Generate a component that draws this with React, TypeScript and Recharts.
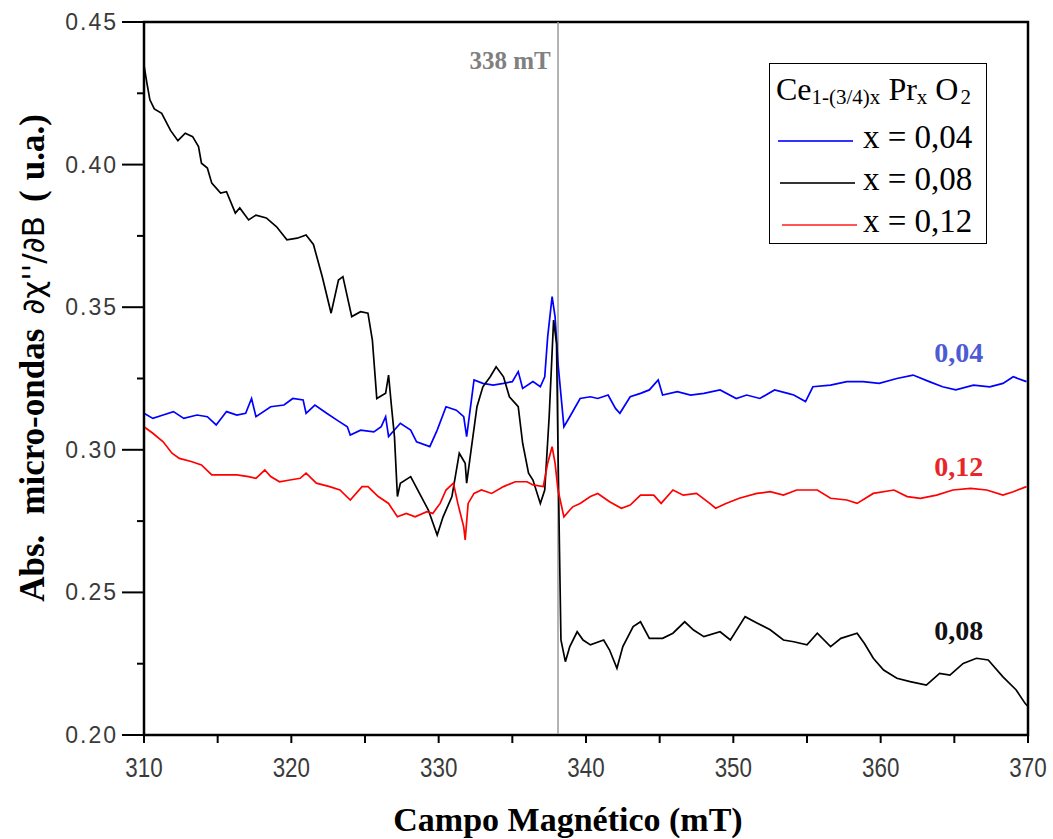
import React from 'react';
import { LineChart, Line, XAxis, YAxis, ReferenceLine, ReferenceArea, ReferenceDot, Legend } from 'recharts';

// Campo magnético (mT) vs absorción
const series004: [number, number][] = [
  [310.0,0.3128],[310.6,0.311],[311.3,0.3122],[312.0,0.3134],[312.7,0.311],[313.6,0.3122],[314.3,0.3116],[314.9,0.3087],[315.6,0.3134],[316.3,0.3122],[316.9,0.3128],[317.3,0.318],[317.6,0.3116],[318.6,0.3151],[319.5,0.3157],[320.1,0.318],[320.8,0.3175],[321.0,0.3128],[321.6,0.3157],[322.4,0.3128],[323.1,0.3104],[323.8,0.3081],[324.0,0.3052],[324.7,0.3069],[325.6,0.3063],[326.1,0.3081],[326.4,0.3116],[326.6,0.3046],[327.4,0.3093],[328.1,0.3069],[328.5,0.3028],[329.4,0.3011],[329.9,0.3069],[330.5,0.3151],[331.2,0.3139],[331.7,0.3116],[331.9,0.3046],[332.4,0.3245],[333.0,0.3233],[333.7,0.3227],[334.4,0.3233],[335.0,0.3239],[335.4,0.3274],[335.7,0.3215],[336.4,0.3239],[336.9,0.3221],[337.2,0.3256],[337.4,0.3397],[337.7,0.3537],[337.9,0.3467],[338.1,0.3303],[338.5,0.3081],[338.9,0.3116],[339.6,0.318],[340.3,0.3186],[340.8,0.318],[341.5,0.3192],[342.0,0.3145],[342.3,0.3128],[343.0,0.3186],[343.7,0.3198],[344.3,0.321],[344.9,0.3245],[345.2,0.3192],[346.2,0.3204],[347.1,0.3192],[348.0,0.3198],[349.1,0.321],[350.2,0.318],[350.9,0.3192],[351.8,0.318],[352.8,0.321],[353.7,0.3198],[354.1,0.3192],[354.9,0.3169],[355.4,0.3221],[356.6,0.3227],[357.7,0.3239],[358.8,0.3239],[359.9,0.3233],[361.1,0.325],[362.2,0.3262],[363.3,0.3239],[364.2,0.3221],[365.1,0.321],[366.3,0.3227],[367.4,0.3221],[368.3,0.3233],[369.0,0.3256],[369.9,0.3239]
];

const series008: [number, number][] = [
  [310.0,0.4349],[310.2,0.4285],[310.4,0.4227],[310.7,0.4195],[311.2,0.418],[311.8,0.412],[312.3,0.4084],[312.8,0.411],[313.3,0.4098],[313.7,0.4063],[313.9,0.4005],[314.3,0.3988],[314.6,0.3935],[315.2,0.390],[315.6,0.3905],[316.2,0.383],[316.5,0.3848],[317.1,0.3806],[317.6,0.3823],[318.3,0.3813],[319.0,0.3782],[319.7,0.3736],[320.4,0.3742],[321.0,0.3753],[321.5,0.372],[322.1,0.3607],[322.7,0.3479],[323.2,0.3595],[323.5,0.3607],[324.1,0.3467],[324.7,0.3484],[325.2,0.3479],[325.5,0.3385],[325.8,0.318],[326.4,0.3198],[326.6,0.3262],[326.8,0.3151],[327.0,0.3046],[327.2,0.2836],[327.4,0.2883],[328.1,0.2906],[328.7,0.2847],[329.3,0.2789],[329.9,0.2701],[330.3,0.2765],[330.9,0.2836],[331.4,0.2988],[331.8,0.2953],[331.9,0.2883],[332.2,0.2999],[332.6,0.3151],[333.0,0.3221],[333.5,0.3256],[333.9,0.3291],[334.4,0.3256],[334.8,0.3186],[335.4,0.3151],[335.7,0.3023],[336.1,0.2918],[336.4,0.2894],[336.9,0.2812],[337.2,0.2859],[337.5,0.3116],[337.8,0.3455],[338.0,0.3373],[338.1,0.2999],[338.2,0.2649],[338.3,0.2333],[338.6,0.2257],[338.9,0.231],[339.4,0.2362],[339.8,0.2333],[340.3,0.2316],[341.2,0.2333],[341.6,0.2298],[342.1,0.2234],[342.5,0.231],[343.2,0.238],[343.7,0.2397],[344.3,0.2339],[345.2,0.2339],[345.9,0.2357],[346.7,0.2397],[347.3,0.2368],[348.0,0.2345],[349.1,0.2362],[349.8,0.2333],[350.8,0.2415],[351.6,0.2393],[352.5,0.2369],[353.4,0.2333],[354.1,0.2327],[355.0,0.2316],[355.7,0.2357],[356.6,0.231],[357.3,0.2339],[358.4,0.2357],[358.9,0.2321],[359.5,0.2269],[360.2,0.2228],[361.1,0.2199],[362.0,0.2187],[363.1,0.2175],[364.0,0.2216],[364.7,0.221],[365.6,0.2251],[366.5,0.2269],[367.3,0.2263],[368.3,0.2204],[369.2,0.2158],[369.8,0.2111],[370.0,0.2100]
];

const series012: [number, number][] = [
  [310.0,0.3081],[310.6,0.3058],[311.3,0.3028],[311.9,0.2988],[312.4,0.297],[313.2,0.2959],[313.9,0.2947],[314.6,0.2912],[315.4,0.2912],[316.3,0.2912],[317.1,0.2906],[317.6,0.29],[318.2,0.2929],[318.6,0.2906],[319.2,0.2888],[319.9,0.2894],[320.6,0.29],[321.0,0.2918],[321.7,0.2883],[322.6,0.2871],[323.3,0.2859],[324.0,0.2824],[324.8,0.2871],[325.2,0.2871],[325.9,0.2836],[326.6,0.2812],[327.2,0.2765],[327.8,0.2777],[328.4,0.2765],[329.2,0.2783],[329.6,0.2777],[330.1,0.2812],[330.5,0.2859],[331.0,0.2883],[331.3,0.2812],[331.7,0.273],[331.8,0.2684],[332.0,0.2812],[332.4,0.2847],[332.9,0.2859],[333.6,0.2847],[334.4,0.2871],[335.2,0.2888],[336.0,0.2888],[336.4,0.2877],[337.1,0.2871],[337.4,0.2953],[337.7,0.3011],[337.9,0.2953],[338.1,0.2859],[338.5,0.2765],[338.9,0.2789],[339.1,0.28],[339.6,0.2812],[340.3,0.2836],[340.8,0.2847],[341.6,0.2818],[342.4,0.2795],[343.0,0.2806],[343.7,0.2841],[344.6,0.2841],[345.1,0.2812],[345.9,0.2859],[346.6,0.2841],[347.5,0.2847],[348.4,0.2812],[348.8,0.2795],[349.5,0.2812],[350.4,0.283],[351.6,0.2847],[352.5,0.2853],[353.4,0.2841],[354.3,0.2859],[355.0,0.2859],[355.7,0.2859],[356.6,0.283],[357.7,0.2824],[358.4,0.2812],[359.5,0.2847],[360.9,0.2859],[361.8,0.2836],[362.7,0.283],[363.8,0.2841],[364.9,0.2859],[366.1,0.2865],[367.2,0.2859],[368.3,0.2841],[369.0,0.2853],[369.9,0.2871]
];

const xTicks = [310, 315, 320, 325, 330, 335, 340, 345, 350, 355, 360, 365, 370];
const yTicks = [0.2, 0.225, 0.25, 0.275, 0.3, 0.325, 0.35, 0.375, 0.4, 0.425, 0.45];
const seriesNames = ['x = 0,04', 'x = 0,08', 'x = 0,12'];
const seriesColors = ['#0000ff', '#000000', '#ff0000'];
const legendColors = ['#3333ff', '#333333', '#ff5555'];
const markerField = 338.1;
const markerText = '338 mT';
const endLabels = [
  { x: 365.3, y: 0.3343, text: '0,04', color: '#4c5bd4' },
  { x: 365.3, y: 0.2943, text: '0,12', color: '#e8262a' },
  { x: 365.3, y: 0.2368, text: '0,08', color: '#111111' },
];

const toRows = (s: [number, number][]) => s.map(([x, y]) => ({ x, y }));

const isMajorY = (v: number) => Math.abs(v * 20 - Math.round(v * 20)) < 1e-6;
const isMajorX = (v: number) => Math.abs(v / 10 - Math.round(v / 10)) < 1e-6;

const YTick = (props: any) => {
  const { x, y, payload } = props;
  const major = isMajorY(payload.value);
  return (
    <g>
      <line x1={x} x2={x - (major ? 22 : 7)} y1={y} y2={y} stroke="#000" strokeWidth={2} />
      {major && (
        <text x={x - 26} y={y + 8} textAnchor="end" fontFamily="Liberation Sans, Arial, sans-serif" fontSize={23} letterSpacing={2} fill="#3a3a3a">
          {payload.value.toFixed(2)}
        </text>
      )}
    </g>
  );
};

const XTick = (props: any) => {
  const { x, y, payload } = props;
  const major = isMajorX(payload.value);
  return (
    <g>
      <line x1={x} x2={x} y1={y} y2={y + 8} stroke="#000" strokeWidth={2} />
      {major && (
        <text transform={`translate(${x},${y + 42}) scale(0.8,1)`} textAnchor="middle" fontFamily="Liberation Sans, Arial, sans-serif" fontSize={28} fill="#3a3a3a">
          {payload.value}
        </text>
      )}
    </g>
  );
};

const serif = 'Liberation Serif, Times New Roman, serif';

const YLabel = (props: any) => {
  const { viewBox } = props;
  const cx = viewBox.x + 44;
  const cy = 358;
  return (
    <text transform={`translate(${cx},${cy}) rotate(-90)`} textAnchor="middle" fill="#000">
      <tspan fontFamily={serif} fontWeight="bold" fontSize={35}>Abs.</tspan>
      <tspan dx={20} fontFamily={serif} fontWeight="bold" fontSize={35}>micro-ondas</tspan>
      <tspan dx={14} fontFamily="DejaVu Sans, sans-serif" fontSize={31}>∂χ''/∂B</tspan>
      <tspan dx={14} fontFamily={serif} fontWeight="bold" fontSize={35}>(</tspan>
      <tspan dx={10} fontFamily={serif} fontWeight="bold" fontSize={35}>u.a.)</tspan>
    </text>
  );
};

const XLabel = (props: any) => {
  const { viewBox } = props;
  return (
    <text x={viewBox.x + viewBox.width / 2 - 18} y={viewBox.y + 96} textAnchor="middle" fontFamily={serif} fontWeight="bold" fontSize={34} fill="#000">
      Campo Magnético (mT)
    </text>
  );
};

const LegendBox = () => (
  <div style={{ width: 218, height: 181, border: '1.5px solid #000', background: '#fff', fontFamily: serif, color: '#000', boxSizing: 'border-box', position: 'relative' }}>
    <div style={{ position: 'absolute', left: 6, top: 7, fontSize: 32, whiteSpace: 'nowrap' }}>
      Ce<sub style={{ fontSize: 21, verticalAlign: '-4px' }}>1-(3/4)x</sub> Pr<sub style={{ fontSize: 21, verticalAlign: '-4px' }}>x</sub> O<sub style={{ fontSize: 21, verticalAlign: '-4px', marginLeft: 2 }}>2</sub>
    </div>
    {seriesNames.map((n, i) => (
      <div key={n} style={{ position: 'absolute', left: 0, top: 55 + i * 42, height: 40, width: 218 }}>
        <div style={{ position: 'absolute', left: 8 + i * 2, top: 21, width: 75, height: 2, background: legendColors[i] }} />
        <div style={{ position: 'absolute', left: 93, top: 0, fontSize: 33, whiteSpace: 'nowrap' }}>{n}</div>
      </div>
    ))}
  </div>
);

export default function App() {
  return (
    <div style={{ position: 'absolute', left: 0, top: 0, width: 1053, height: 839, background: '#fff' }}>
      <LineChart width={1053} height={839} margin={{ top: 22, right: 25, bottom: 0, left: 0 }}>
        <XAxis
          dataKey="x"
          type="number"
          domain={[310, 370]}
          ticks={xTicks}
          interval={0}
          tickSize={0}
          tickMargin={0}
          tickLine={false}
          tick={<XTick />}
          height={104}
          axisLine={{ stroke: '#000', strokeWidth: 2 }}
          allowDuplicatedCategory={false}
          label={<XLabel />}
        />
        <YAxis
          type="number"
          domain={[0.2, 0.45]}
          ticks={yTicks}
          interval={0}
          tickSize={0}
          tickMargin={0}
          tickLine={false}
          tick={<YTick />}
          width={144}
          axisLine={{ stroke: '#000', strokeWidth: 2 }}
          label={<YLabel />}
        />
        <ReferenceArea x1={310} x2={370} y1={0.2} y2={0.45} fill="none" stroke="#000" strokeWidth={2.5} />
        <ReferenceLine x={markerField} stroke="#9a9a9a" strokeWidth={1.5} />
        <Line data={toRows(series004)} dataKey="y" name={seriesNames[0]} stroke={seriesColors[0]} strokeWidth={1.7} dot={false} isAnimationActive={false} type="linear" />
        <Line data={toRows(series008)} dataKey="y" name={seriesNames[1]} stroke={seriesColors[1]} strokeWidth={1.7} dot={false} isAnimationActive={false} type="linear" />
        <Line data={toRows(series012)} dataKey="y" name={seriesNames[2]} stroke={seriesColors[2]} strokeWidth={1.7} dot={false} isAnimationActive={false} type="linear" />
        <ReferenceDot
          x={337.6}
          y={0.4365}
          r={0}
          fill="none"
          stroke="none"
          label={{ value: markerText, position: 'left', offset: 0, fill: '#808080', fontSize: 25, fontWeight: 'bold', fontFamily: serif }}
        />
        {endLabels.map((l) => (
          <ReferenceDot
            key={l.text}
            x={l.x}
            y={l.y}
            r={0}
            fill="none"
            stroke="none"
            label={{ value: l.text, position: 'center', offset: 0, fill: l.color, fontSize: 28, fontWeight: 'bold', fontFamily: serif }}
          />
        ))}
        <Legend
          layout="horizontal"
          verticalAlign="middle"
          align="center"
          content={<LegendBox />}
          wrapperStyle={{ position: 'absolute', left: 769, top: 63, width: 218, height: 181, margin: 0 }}
        />
      </LineChart>
    </div>
  );
}
